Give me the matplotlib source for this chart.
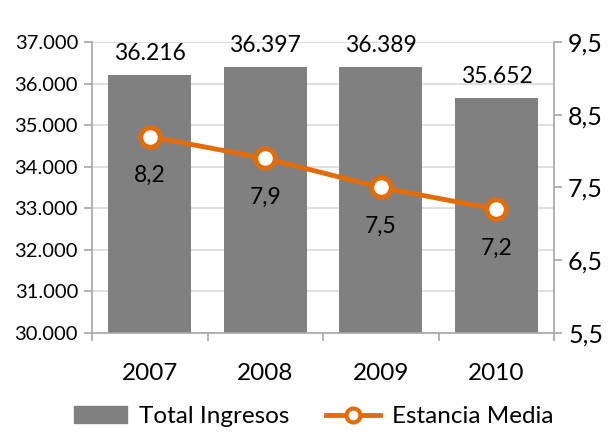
import matplotlib.pyplot as plt
from matplotlib.lines import Line2D
from matplotlib.patches import Patch

plt.rcParams.update({'font.family': 'Lato', 'font.size': 14})

years = ['2007', '2008', '2009', '2010']
ingresos = [36216, 36397, 36389, 35652]
estancia = [8.2, 7.9, 7.5, 7.2]

bar_color = '#808080'
line_color = '#E36C0A'
axis_gray = '#A6A6A6'

fig = plt.figure(figsize=(6.09, 4.34), dpi=100)
ax = fig.add_axes([0.151, 0.233, 0.759, 0.670])
x = range(len(years))

bars = ax.bar(x, ingresos, width=0.72, color=bar_color, zorder=2)
ax.bar_label(bars, labels=[f'{v:,}'.replace(',', '.') for v in ingresos],
             padding=8, fontsize=16.5)

ax.set_ylim(30000, 37000)
ax.set_yticks(range(30000, 37001, 1000))
ax.set_yticklabels([f'{v:,}'.replace(',', '.') for v in range(30000, 37001, 1000)],
                   fontsize=14.5)
ax.set_xlim(-0.5, len(years) - 0.5)
ax.set_xticks(x)
ax.set_xticklabels(years, fontsize=17.5)
ax.set_xticks([i - 0.5 for i in range(len(years) + 1)], minor=True)
ax.tick_params(axis='x', which='major', length=0, pad=22)
ax.tick_params(axis='x', which='minor', length=6, color=axis_gray, width=1.2)
ax.tick_params(axis='y', length=6, color=axis_gray, width=1.2, pad=4)
ax.grid(axis='y', color='#D9D9D9', linewidth=1.2, zorder=0)
ax.set_axisbelow(True)
for s in ['top', 'right']:
    ax.spines[s].set_visible(False)
for s in ['left', 'bottom']:
    ax.spines[s].set_color(axis_gray)
    ax.spines[s].set_linewidth(1.2)

ax2 = ax.twinx()
ax2.plot(x, estancia, color=line_color, linewidth=3.5, marker='o',
         markersize=14, markerfacecolor='white', markeredgecolor=line_color,
         markeredgewidth=3.5, zorder=3)
for xi, v in zip(x, estancia):
    ax2.annotate(str(v).replace('.', ','), (xi, v), xytext=(0, -28),
                 textcoords='offset points', ha='center', va='center', fontsize=16.5)
ax2.set_ylim(5.5, 9.5)
ax2.set_yticks([5.5, 6.5, 7.5, 8.5, 9.5])
ax2.set_yticklabels(['5,5', '6,5', '7,5', '8,5', '9,5'], fontsize=18)
ax2.tick_params(axis='y', length=6, color=axis_gray, width=1.2, pad=4)
for s in ['top', 'left', 'bottom']:
    ax2.spines[s].set_visible(False)
ax2.spines['right'].set_color(axis_gray)
ax2.spines['right'].set_linewidth(1.2)

handles = [Patch(color=bar_color, label='Total Ingresos'),
           Line2D([0], [0], color=line_color, linewidth=3.5, marker='o', markersize=10,
                  markerfacecolor='white', markeredgewidth=3, label='Estancia Media')]
fig.legend(handles=handles, loc='center', bbox_to_anchor=(0.515, 0.04), ncol=2,
           frameon=False, fontsize=17.5, handlelength=2.2, handletextpad=0.5,
           columnspacing=1.5)

fig.savefig('out.png', dpi=100)
